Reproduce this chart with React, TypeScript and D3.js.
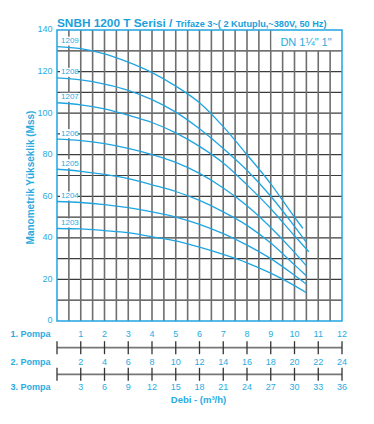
import React from "react";
import * as d3 from "d3";

// flow for 1 pump (m3/h) at which heads were read, last value is the curve end
const flowSteps = [0, 1, 2, 3, 4, 5, 6, 7, 8, 9, 10];
const models = ["1209", "1208", "1207", "1206", "1205", "1204", "1203"];
const curveEnds = [10.35, 10.5, 10.6, 10.5, 10.5, 10.5, 10.5];

const h1209 = [132, 131, 128.5, 124.5, 119.5, 113, 105, 93.5, 80, 66, 50, 44.6];
const h1208 = [117, 116, 114, 111, 106.5, 100.5, 92.5, 83, 72.5, 60, 45.5, 37.8];
const h1207 = [105, 104, 102, 99, 95.5, 90.5, 84, 76, 65.5, 54, 41, 33.3];
const h1206 = [87.5, 86.8, 85.3, 83, 80, 76.3, 71, 64, 55.5, 45, 33, 26.5];
const h1205 = [73, 72, 70.5, 68.5, 65.5, 62.3, 58, 52.5, 46, 37.5, 27, 21.7];
const h1204 = [57.5, 57, 56, 54.5, 52.5, 50, 46.5, 42, 36.5, 30, 22, 17.7];
const h1203 = [44.5, 44.3, 43.5, 42.5, 40.5, 38.5, 35.5, 32, 28, 23, 17, 13.6];
const heads = [h1209, h1208, h1207, h1206, h1205, h1204, h1203];

const yTicks = [0, 20, 40, 60, 80, 100, 120, 140];
const pumpLabels = ["1. Pompa", "2. Pompa", "3. Pompa"];
const pumpFactors = [1, 2, 3];
const xTicks = [1, 2, 3, 4, 5, 6, 7, 8, 9, 10, 11, 12];

const BLUE = "#1fa5e2";
const TEXT = "#29abe2";

export default function App() {
    const margin = { top: 30, right: 32, bottom: 103, left: 57 };
    const width = 374;
    const height = 424;

    const x = d3.scaleLinear([0, 12], [margin.left, width - margin.right]);
    const y = d3.scaleLinear([0, 140], [height - margin.bottom, margin.top]);

    const line = d3.line<[number, number]>()
        .x((d) => x(d[0]))
        .y((d) => y(d[1]))
        .curve(d3.curveMonotoneX);

    const vGrid = d3.range(1, 24).map((i) => i / 2);
    const hGrid = d3.range(10, 140, 10);

    // pump scale rows: label row y and axis row y
    const rows = [
        { label: 335, axis: 347.7 },
        { label: 362.3, axis: 374.3 },
        { label: 387.5, axis: null },
    ];

    const font = "'Liberation Sans', Arial, sans-serif";

    return <svg width={width} height={height} style={{ position: "absolute", left: 0, top: 0 }} fontFamily={font}>
        <rect width={width} height={height} fill="white" />

        {/* title */}
        <text x={57} y={26.5} fill="#1b9fdc" fontWeight="bold">
            <tspan fontSize={11.8}>SNBH 1200 T Serisi / </tspan>
            <tspan fontSize={9.2}>Trifaze 3~( 2 Kutuplu,~380V, 50 Hz)</tspan>
        </text>

        {/* grid */}
        <g>
            {hGrid.map((v) => (
                <line key={"h" + v} x1={x(0)} x2={x(12)} y1={y(v)} y2={y(v)}
                    stroke="#3c3c3c" strokeWidth={1.2} />
            ))}
            {vGrid.map((v) => (
                <line key={"v" + v} x1={x(v)} x2={x(v)} y1={y(0)} y2={y(140)}
                    stroke="#6e6e6e" strokeWidth={1.6} />
            ))}
        </g>

        {/* DN box */}
        <rect x={x(9) + 0.8} y={y(140)} width={x(12) - x(9) - 0.8} height={y(130) - y(140) - 0.7} fill="white" />
        <text x={306} y={45.5} textAnchor="middle" fontSize={11} fill={TEXT}>DN 1¼" 1"</text>

        {/* curves */}
        {models.map((m, i) => {
            const pts: [number, number][] = heads[i].map((h, j) => [j < flowSteps.length ? flowSteps[j] : curveEnds[i], h]);
            return <path key={m} d={line(pts)!} fill="none" stroke={BLUE} strokeWidth={1.3} />;
        })}

        {/* curve labels */}
        {models.map((m, i) => {
            const ly = y(heads[i][0]) - 5.5;
            return <g key={"l" + m}>
                <rect x={60} y={ly - 4.5} width={18} height={9} fill="white" />
                <text x={61} y={ly} dominantBaseline="middle" fontSize={8} fill={TEXT}>{m}</text>
            </g>;
        })}

        {/* plot frame */}
        <rect x={x(0)} y={y(140)} width={x(12) - x(0)} height={y(0) - y(140)}
            fill="none" stroke={BLUE} strokeWidth={1.5} />

        {/* y ticks */}
        {yTicks.map((t) => (
            <text key={"yt" + t} x={52.5} y={y(t)} textAnchor="end" dominantBaseline="middle"
                fontSize={9} fill={TEXT}>{t}</text>
        ))}
        <text transform={`translate(31,${(y(0) + y(140)) / 2 + 2}) rotate(-90)`} textAnchor="middle"
            dominantBaseline="middle" fontSize={10} fontWeight="bold" fill={TEXT}>Manometrik Yükseklik (Mss)</text>

        {/* pump flow scales */}
        {pumpLabels.map((p, r) => (
            <g key={p}>
                <text x={10.5} y={rows[r].label} dominantBaseline="middle" fontSize={9} fontWeight="bold" fill={TEXT}>{p}</text>
                {xTicks.map((t) => (
                    <text key={t} x={x(t)} y={rows[r].label} textAnchor="middle" dominantBaseline="middle"
                        fontSize={9} fill={TEXT}>{t * pumpFactors[r]}</text>
                ))}
                {rows[r].axis !== null && <g>
                    <line x1={x(0)} x2={x(12)} y1={rows[r].axis!} y2={rows[r].axis!} stroke="#777" strokeWidth={1.8} />
                    {[0, ...xTicks].map((t) => (
                        <line key={"t" + t} x1={x(t)} x2={x(t)} y1={rows[r].axis! - 6.5} y2={rows[r].axis! + 6.5}
                            stroke="#333" strokeWidth={1.3} />
                    ))}
                </g>}
            </g>
        ))}
        <text x={198.5} y={400.7} textAnchor="middle" dominantBaseline="middle" fontSize={9.5}
            fontWeight="bold" fill={TEXT}>Debi - (m³/h)</text>
    </svg>;
}
